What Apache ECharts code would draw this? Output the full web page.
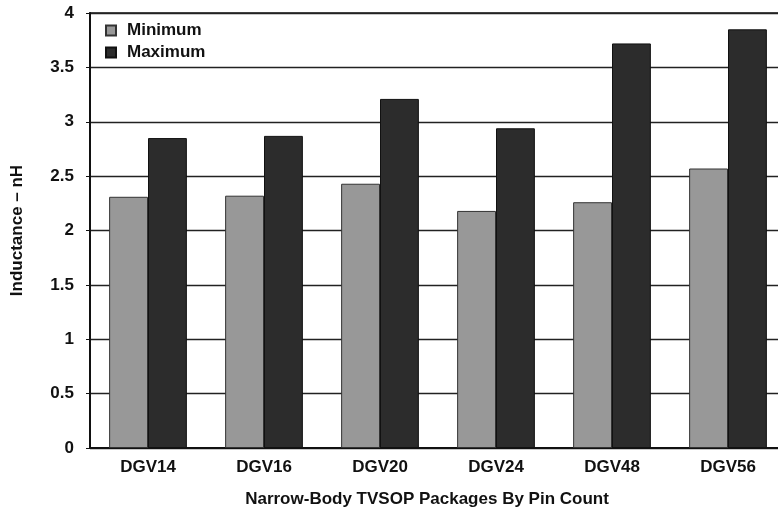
<!DOCTYPE html>
<html><head><meta charset="utf-8">
<script src="https://cdn.jsdelivr.net/npm/echarts@6/dist/echarts.min.js"></script>
<style>html,body{margin:0;padding:0;background:#fff}#c{width:778px;height:511px}</style>
</head><body><div id="c"></div>
<script>
const categories = ['DGV14','DGV16','DGV20','DGV24','DGV48','DGV56'];
const minimum = [2.31, 2.32, 2.43, 2.18, 2.26, 2.57];
const maximum = [2.85, 2.87, 3.21, 2.94, 3.72, 3.85];
const yTicks = ['0','0.5','1','1.5','2','2.5','3','3.5','4'];

const font = 'Liberation Sans, Arial, Helvetica, sans-serif';
const chart = echarts.init(document.getElementById('c'), null, {renderer:'canvas'});
chart.setOption({
  animation:false,
  backgroundColor:'#fff',
  grid:{left:90, right:-8, top:13, bottom:63, containLabel:false, outerBoundsMode:'none',
        show:true, borderColor:'#111', borderWidth:1.5},
  legend:{
    left:100, top:17, orient:'vertical', itemWidth:10, itemHeight:10, itemGap:5, icon:'rect',
    textStyle:{fontFamily:font, fontWeight:'bold', fontSize:17, color:'#111', padding:[0,0,0,6]},
    data:['Minimum','Maximum']
  },
  xAxis:{
    type:'category', data:categories,
    name:'Narrow-Body TVSOP Packages By Pin Count', nameLocation:'middle', nameGap:43,
    nameTextStyle:{fontFamily:font, fontWeight:'bold', fontSize:17, color:'#111', padding:[0,22,0,0]},
    axisLine:{lineStyle:{color:'#111', width:2}},
    axisTick:{show:false},
    axisLabel:{fontFamily:font, fontWeight:'bold', fontSize:17, color:'#111', margin:11}
  },
  yAxis:{
    type:'value', min:0, max:4, interval:0.5,
    name:'Inductance – nH', nameLocation:'middle', nameGap:64, nameRotate:90,
    nameTextStyle:{fontFamily:font, fontWeight:'bold', fontSize:17, color:'#111'},
    axisLine:{show:true, lineStyle:{color:'#111', width:2}},
    axisTick:{show:true, length:4, lineStyle:{color:'#111'}},
    splitLine:{lineStyle:{color:'#222', width:1.3}},
    axisLabel:{fontFamily:font, fontWeight:'bold', fontSize:17, color:'#111', margin:16,
      formatter:(v)=>{const i=Math.round(v/0.5);return yTicks[i]!==undefined?yTicks[i]:String(v);}}
  },
  series:[
    {name:'Minimum', type:'bar', data:minimum, barGap:'0%', barCategoryGap:'33%',
     itemStyle:{color:'#989898', borderColor:'#333', borderWidth:1}},
    {name:'Maximum', type:'bar', data:maximum,
     itemStyle:{color:'#2c2c2c', borderColor:'#111', borderWidth:1}}
  ]
});
</script></body></html>
